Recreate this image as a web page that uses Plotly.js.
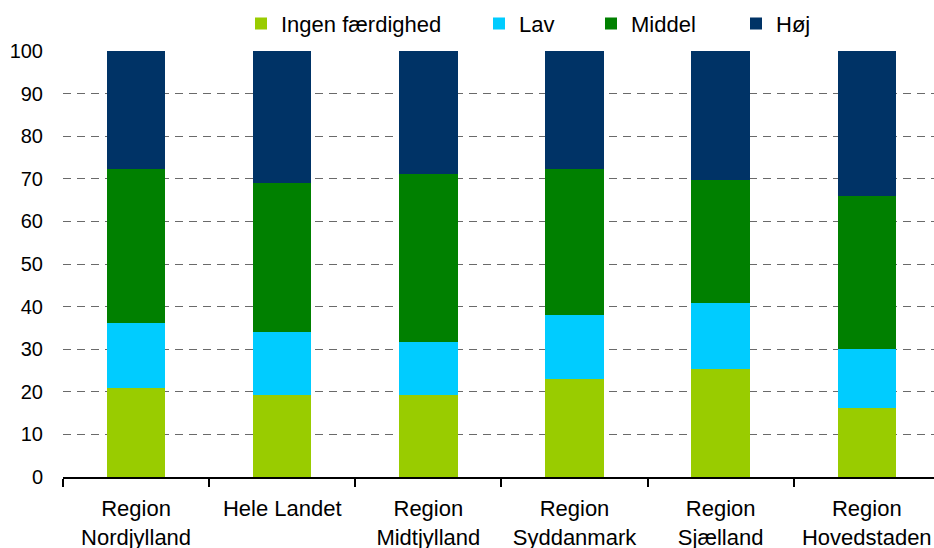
<!DOCTYPE html>
<html>
<head>
<meta charset="utf-8">
<script src="https://cdn.plot.ly/plotly-3.0.1.min.js"></script>
<style>
  html, body { margin: 0; padding: 0; background: #fff; }
  #chart { width: 934px; height: 548px; }
</style>
</head>
<body>
<div id="chart"></div>
<script>
// Categories (x tick labels)
const categories = [
  "Region<br>Nordjylland",
  "Hele Landet",
  "Region<br>Midtjylland",
  "Region<br>Syddanmark",
  "Region<br>Sjælland",
  "Region<br>Hovedstaden"
];

// Series values (percent)
const ingenFaerdighed = [20.8, 19.2, 19.2, 22.9, 25.3, 16.3];
const lav             = [15.3, 14.8, 12.6, 15.1, 15.5, 13.7];
const middel          = [36.1, 35.1, 39.4, 34.2, 29.0, 36.0];
const hoej            = [27.8, 30.9, 28.8, 27.8, 30.2, 34.0];

const seriesNames = ["Ingen færdighed", "Lav", "Middel", "Høj"];
const yTickVals = [0, 10, 20, 30, 40, 50, 60, 70, 80, 90, 100];

const colors = ["#99CC00", "#00CCFF", "#008000", "#003366"];
const seriesData = [ingenFaerdighed, lav, middel, hoej];
const legendIds = ["legend", "legend2", "legend3", "legend4"];

const traces = seriesData.map((vals, i) => ({
  type: "bar",
  x: categories,
  y: vals,
  name: seriesNames[i],
  marker: { color: colors[i], line: { width: 0 } },
  width: 0.40,
  legend: legendIds[i],
  hoverinfo: "skip"
}));

const fontFam = '"Liberation Sans", Arial, sans-serif';
const plotLeft = 63, plotW = 934 - 63;
function px2paper(px) { return (px - plotLeft) / plotW; }

function mkLegend(pxLeft) {
  return {
    x: px2paper(pxLeft), xanchor: "left",
    y: 1.064, yanchor: "middle",
    orientation: "h",
    bgcolor: "rgba(0,0,0,0)",
    borderwidth: 0,
    font: { family: fontFam, size: 22, color: "#000" },
    itemwidth: 30
  };
}

const layout = {
  width: 934,
  height: 548,
  margin: { l: 63, r: 0, t: 51, b: 71, pad: 0 },
  paper_bgcolor: "#fff",
  plot_bgcolor: "#fff",
  barmode: "stack",
  showlegend: true,
  font: { family: fontFam, size: 20, color: "#000" },
  legend: mkLegend(241),
  legend2: mkLegend(479),
  legend3: mkLegend(591),
  legend4: mkLegend(736),
  xaxis: {
    type: "category",
    range: [-0.5, 5.46],
    showline: true,
    linecolor: "#000",
    linewidth: 2,
    ticks: "outside",
    tickson: "boundaries",
    ticklen: 8,
    tickwidth: 2,
    tickcolor: "#000",
    showgrid: false,
    zeroline: false,
    tickfont: { family: fontFam, size: 22, color: "#000" },
    ticklabelstandoff: 11,
    fixedrange: true
  },
  yaxis: {
    range: [0, 100],
    tickmode: "array",
    tickvals: yTickVals,
    ticktext: yTickVals.map(String),
    showline: false,
    ticks: "",
    showgrid: true,
    gridcolor: "#6a6a6a",
    gridwidth: 1,
    griddash: "8px,6px",
    zeroline: false,
    tickfont: { family: fontFam, size: 20, color: "#000" },
    ticklabelstandoff: 19,
    fixedrange: true
  }
};

Plotly.newPlot("chart", traces, layout, { staticPlot: true, displayModeBar: false });
</script>
</body>
</html>
